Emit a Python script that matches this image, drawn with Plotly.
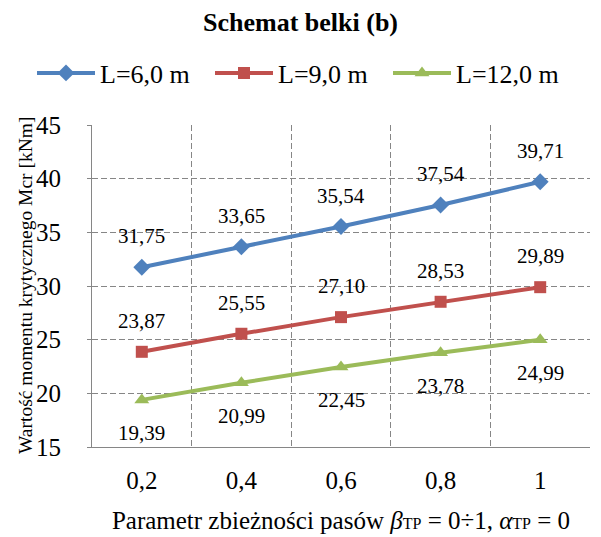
import plotly.graph_objects as go

categories = ["0,2", "0,4", "0,6", "0,8", "1"]
series_names = ["L=6,0 m", "L=9,0 m", "L=12,0 m"]
values_l6 = [31.75, 33.65, 35.54, 37.54, 39.71]
values_l9 = [23.87, 25.55, 27.10, 28.53, 29.89]
values_l12 = [19.39, 20.99, 22.45, 23.78, 24.99]
y_ticks = [15, 20, 25, 30, 35, 40, 45]
y_title = "Wartość momentu krytycznego Mcr [kNm]"

colors = ["#4F81BD", "#C0504D", "#9BBB59"]
symbols = ["diamond", "square", "triangle-up"]
msizes = [13, 12, 13]
label_shift = [31, 31, -33]
FONT = "Liberation Serif"
GRID = "#868686"

W, H = 601, 537
ML, MR, MT, MB = 92, 11, 125, 90
PW, PH = W - ML - MR, H - MT - MB

def fmt(v):
    return f"{v:.2f}".replace(".", ",")

fig = go.Figure()
annotations = []
for name, vals, col, sym, ms, sh in zip(series_names, [values_l6, values_l9, values_l12],
                                         colors, symbols, msizes, label_shift):
    fig.add_trace(go.Scatter(
        x=categories, y=vals, name=name, mode="lines+markers",
        line=dict(color=col, width=4),
        marker=dict(symbol=sym, size=ms, color=col),
    ))
    for i, v in enumerate(vals):
        annotations.append(dict(
            x=i, y=v, xref="x", yref="y", text=fmt(v), showarrow=False, yshift=sh,
            xanchor="center", yanchor="middle",
            font=dict(family=FONT, size=21, color="#000000"),
        ))

# y-axis title
annotations.append(dict(
    x=(25 - ML) / PW, y=0.5, xref="paper", yref="paper", text=y_title,
    textangle=-90, showarrow=False, xanchor="center", yanchor="middle",
    font=dict(family=FONT, size=19.5, color="#000000"),
))

fig.update_layout(
    width=W, height=H,
    margin=dict(l=ML, r=MR, t=MT, b=MB, autoexpand=False),
    paper_bgcolor="white", plot_bgcolor="white",
    font=dict(family=FONT, color="#000000"),
    title=dict(text="<b>Schemat belki (b)</b>", x=0.5, xanchor="center",
               xref="container", y=1 - 22 / H, yref="container", yanchor="middle",
               font=dict(family=FONT, size=26, color="#000000")),
    legend=dict(orientation="h", x=(32 - ML) / PW, xref="paper", xanchor="left",
                y=(H - MB - 73) / PH, yref="paper", yanchor="middle",
                font=dict(family=FONT, size=26, color="#000000"),
                itemwidth=58, entrywidth=105, entrywidthmode="pixels",
                tracegroupgap=0),
    annotations=annotations,
    showlegend=True,
)

fig.update_xaxes(
    type="category", tickson="boundaries", range=[-0.5, 4.5],
    showgrid=True, gridcolor=GRID, griddash="6px,3px", gridwidth=1,
    showline=True, linecolor=GRID, linewidth=1, mirror=False,
    ticks="", tickfont=dict(family=FONT, size=25, color="#000000"),
    ticklabelstandoff=11,
    title=dict(
        text="Parametr zbieżności pasów <i>β</i><span style='font-size:16px'>TP</span> = 0÷1, "
             "<i>α</i><span style='font-size:16px'>TP</span> = 0",
        font=dict(family=FONT, size=25, color="#000000"), standoff=18),
)
fig.update_yaxes(
    range=[15, 45], tickvals=y_ticks, ticktext=[str(t) for t in y_ticks],
    showgrid=True, gridcolor=GRID, griddash="6px,3px", gridwidth=1,
    showline=True, linecolor=GRID, linewidth=1,
    ticks="outside", ticklen=4, tickcolor=GRID,
    tickfont=dict(family=FONT, size=25, color="#000000"),
    ticklabelstandoff=21,
    zeroline=False,
)

fig.write_html("out.html")
